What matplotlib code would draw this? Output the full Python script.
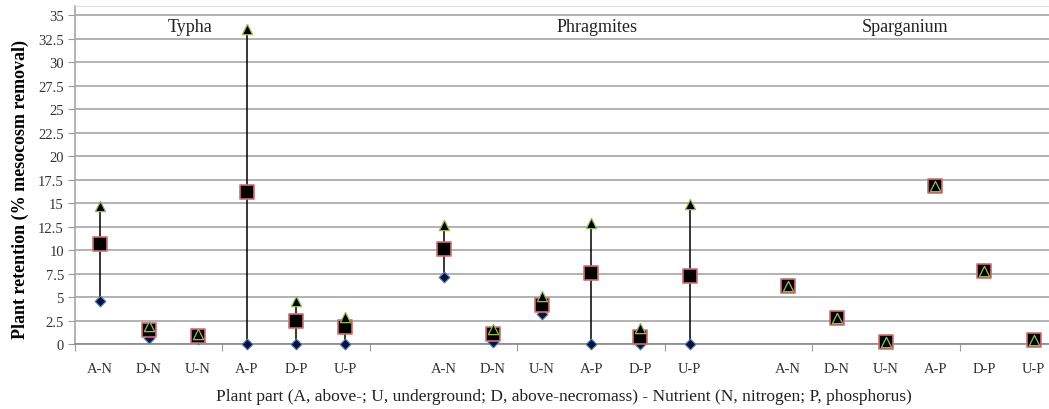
import matplotlib.pyplot as plt
import numpy as np

plt.rcParams['font.family'] = ['Liberation Serif', 'DejaVu Serif']

# plant part - nutrient codes, repeated for each species
parts = ['A-N', 'D-N', 'U-N', 'A-P', 'D-P', 'U-P']
species = ['Typha', 'Phragmites', 'Sparganium']

# low / mid / high values (% mesocosm removal)
typha_low = [4.55, 0.6, 0.5, 0.0, 0.0, 0.0]
typha_mid = [10.7, 1.5, 0.85, 16.2, 2.4, 1.8]
typha_high = [14.75, 1.95, 1.05, 33.6, 4.6, 2.85]

phrag_low = [7.1, 0.25, 3.2, 0.0, 0.0, 0.0]
phrag_mid = [10.1, 1.05, 4.15, 7.6, 0.7, 7.2]
phrag_high = [12.65, 1.6, 5.1, 12.9, 1.75, 14.9]

sparg_low = [6.2, 2.8, 0.2, 16.8, 7.8, 0.4]
sparg_mid = [6.2, 2.8, 0.2, 16.8, 7.8, 0.4]
sparg_high = [6.2, 2.8, 0.2, 16.8, 7.8, 0.4]

yticks = np.arange(0, 35.1, 2.5)
ytick_labels = ['0', '2.5', '5', '7.5', '10', '12.5', '15', '17.5', '20',
                '22.5', '25', '27.5', '30', '32.5', '35']

fig = plt.figure(figsize=(10.49, 4.10), dpi=100)
ax = fig.add_axes([75 / 1049, 65 / 410, 1 - 75 / 1049, 338 / 410])

lows = [typha_low, phrag_low, sparg_low]
mids = [typha_mid, phrag_mid, sparg_mid]
highs = [typha_high, phrag_high, sparg_high]
starts = [0, 7, 14]

pos_all = []
lab_all = []
for s, lo, mi, hi in zip(starts, lows, mids, highs):
    x = np.arange(6) + s + 0.5
    pos_all += list(x)
    lab_all += parts
    ax.vlines(x, lo, hi, color='black', lw=1.1, zorder=3)
    ax.scatter(x, lo, marker='D', s=30, facecolor='#10103a',
               edgecolor='#4F81BD', linewidth=0.8, zorder=4, clip_on=False)
    ax.scatter(x, mi, marker='s', s=90, facecolor='black',
               edgecolor='#D07070', linewidth=1.2, zorder=5, clip_on=False)
    ax.scatter(x, hi, marker='^', s=55, facecolor='black',
               edgecolor='#9BBB59', linewidth=0.9, zorder=6, clip_on=False)

ax.set_xlim(0, (1049 - 75) / 49.16)
ax.set_ylim(0, 36)

ax.set_yticks(yticks)
ax.set_yticklabels(ytick_labels, fontsize=10.5, color='#333333')
ax.tick_params(axis='y', length=5, color='#999999', pad=3)

ax.set_xticks(np.arange(0, 19, 3))
ax.set_xticklabels([])
ax.tick_params(axis='x', which='major', length=5, color='#999999')
ax.set_xticks(pos_all, minor=True)
ax.set_xticklabels(lab_all, minor=True, fontsize=10.5, color='#333333')
ax.tick_params(axis='x', which='minor', length=0, pad=13)

ax.grid(axis='y', color='#A6A6A6', lw=1.2)
ax.set_axisbelow(True)
ax.spines['right'].set_visible(False)
ax.spines['top'].set_color('#DDDDDD')
ax.spines['left'].set_color('#A6A6A6')
ax.spines['bottom'].set_color('#888888')
ax.spines['left'].set_linewidth(1.2)
ax.spines['bottom'].set_linewidth(1.2)

for name, xc in zip(species, [190, 597, 905]):
    fig.text(xc / 1049, 1 - 28 / 410, name, ha='center', va='center',
             fontsize=13, color='#222222')

ax.set_ylabel('Plant retention (% mesocosm removal)', fontsize=13,
              fontweight='bold')
ax.yaxis.set_label_coords(-0.047, 0.4615)
fig.text(564 / 1049, 1 - 397 / 410,
         'Plant part (A, above-; U, underground; D, above-necromass) - Nutrient (N, nitrogen; P, phosphorus)',
         ha='center', va='center', fontsize=12.5, color='#222222')

fig.savefig('out.png', dpi=100)
